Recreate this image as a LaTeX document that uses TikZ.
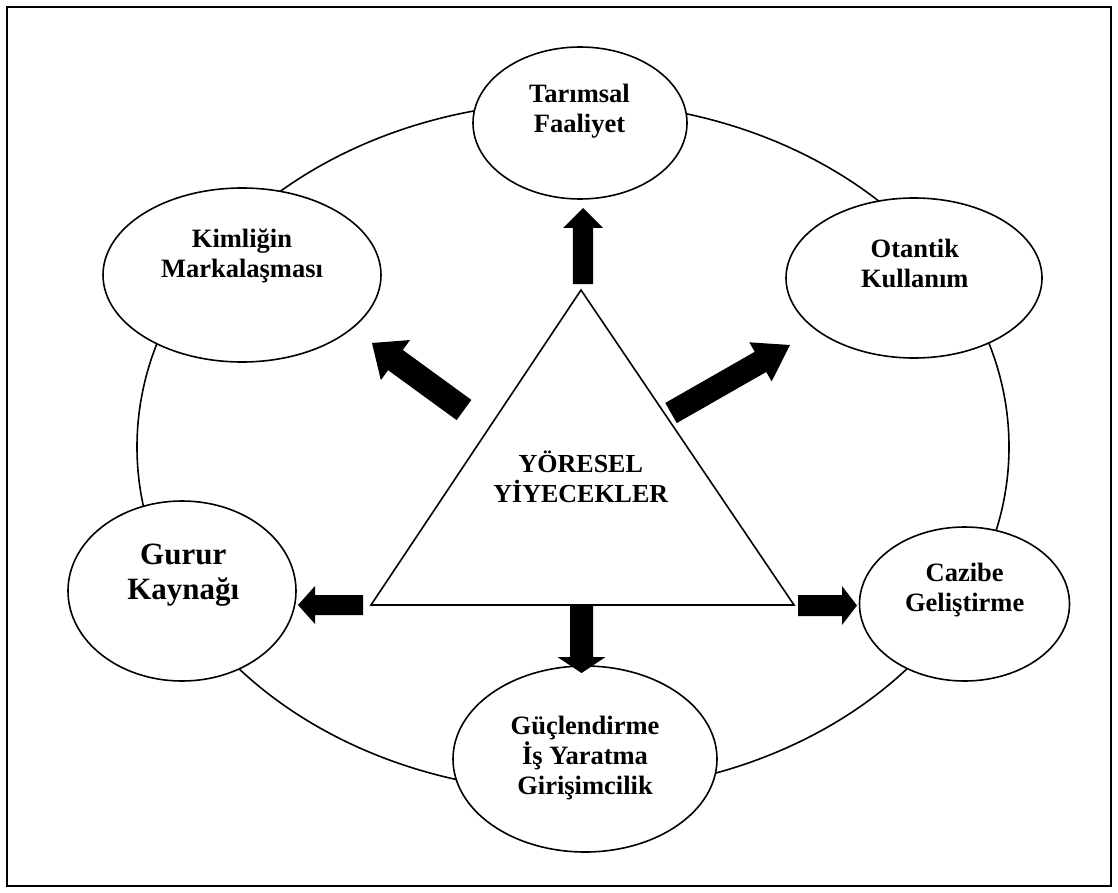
\documentclass[tikz,border=0pt]{standalone}
\usepackage{fontspec}
\setmainfont{Liberation Serif}
\usetikzlibrary{calc,shapes.geometric}

% Filled block arrow from #1 (tail) to #2 (tip):
% #3 shaft half width, #4 head half width, #5 head length
\newcommand{\blockarrow}[5]{%
  \coordinate (ba-base) at ($(#2)!#5!(#1)$);
  \fill[blockarrow]
    ($(#1)!#3!90:(#2)$) -- ($(ba-base)!#3!90:(#2)$) -- ($(ba-base)!#4!90:(#2)$)
    -- (#2)
    -- ($(ba-base)!#4!-90:(#2)$) -- ($(ba-base)!#3!-90:(#2)$) -- ($(#1)!#3!-90:(#2)$)
    -- cycle;}

\begin{document}
\begin{tikzpicture}[x=0.5pt, y=-0.5pt,
  outline/.style={line width=0.8pt},
  bubble/.style={ellipse, draw, line width=0.8pt, fill=white, inner sep=0pt},
  ovaltext/.style={font=\fontsize{13.25pt}{15pt}\selectfont\bfseries, align=center, inner sep=0pt},
  bigtext/.style={font=\fontsize{15.5pt}{17.5pt}\selectfont\bfseries, align=center, inner sep=0pt},
  centertext/.style={font=\fontsize{13pt}{15pt}\selectfont\bfseries, align=center, inner sep=0pt},
  blockarrow/.style={fill=black, draw=none}]

\useasboundingbox (0,0) rectangle (1118,893);
\fill[white] (0,0) rectangle (1118,893);

% frame
\draw[outline] (7,7) rectangle (1111,886);

% outer ring
\draw[outline] (573,447) ellipse [x radius=218pt, y radius=172.5pt];

% ring elements
\node[bubble, minimum width=107pt, minimum height=76pt] (tar) at (580,123) {};
\node[bubble, minimum width=139pt, minimum height=87pt] (kim) at (242,275) {};
\node[bubble, minimum width=128pt, minimum height=80pt] (ota) at (914,278) {};
\node[bubble, minimum width=114pt, minimum height=90pt] (gur) at (182,591) {};
\node[bubble, minimum width=105pt, minimum height=77pt] (caz) at (964.5,604) {};
\node[bubble, minimum width=132pt, minimum height=93pt] (guc) at (585,759) {};

\node[ovaltext] (tar-t) at (579.5,111.4) {Tarımsal\\Faaliyet};
\node[ovaltext] (kim-t) at (242,255.5) {Kimliğin\\Markalaşması};
\node[ovaltext] (ota-t) at (914.8,263.5) {Otantik\\Kullanım};
\node[bigtext] (gur-t) at (183.3,575.4) {Gurur\\Kaynağı};
\node[ovaltext] (caz-t) at (964.7,590.5) {Cazibe\\Geliştirme};
\node[ovaltext] (guc-t) at (585,758.4) {Güçlendirme\\İş Yaratma\\Girişimcilik};

% central triangle
\coordinate (apex) at (581,290);
\coordinate (bl) at (371,605);
\coordinate (br) at (794,605);
\draw[outline, line join=miter] (apex) -- (bl) -- (br) -- cycle;
\node[centertext] (core) at (580.8,476.7) {YÖRESEL\\YİYECEKLER};

% arrow ends
\coordinate (up-s) at (583,284);    \coordinate (up-e) at (583,208);
\coordinate (dn-s) at (581.5,605);  \coordinate (dn-e) at (581.5,673);
\coordinate (rt-s) at (798,605.5);  \coordinate (rt-e) at (857,605.5);
\coordinate (lt-s) at (363,605);    \coordinate (lt-e) at (298,605);
\coordinate (ul-s) at (464,410);    \coordinate (ul-e) at (372,343);
\coordinate (ur-s) at (671,413);    \coordinate (ur-e) at (790,345);

\blockarrow{up-s}{up-e}{5.1pt}{10pt}{10pt}
\blockarrow{dn-s}{dn-e}{5.75pt}{12pt}{8pt}
\blockarrow{rt-s}{rt-e}{5.25pt}{9.75pt}{7.5pt}
\blockarrow{lt-s}{lt-e}{5pt}{9.5pt}{8.5pt}
\blockarrow{ul-s}{ul-e}{6.25pt}{12.4pt}{14.5pt}
\blockarrow{ur-s}{ur-e}{5.8pt}{11.25pt}{17pt}

\end{tikzpicture}
\end{document}
